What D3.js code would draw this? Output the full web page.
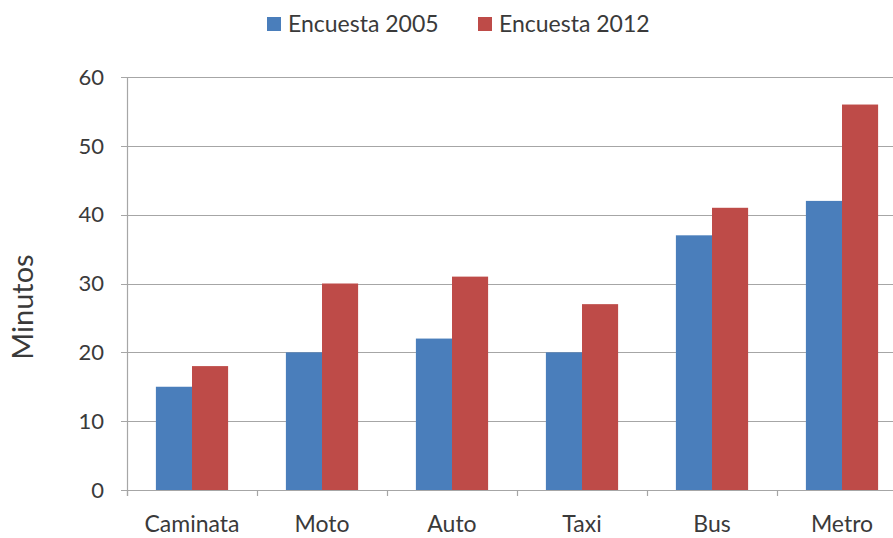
<!DOCTYPE html>
<html>
<head>
<meta charset="utf-8">
<script src="https://cdn.jsdelivr.net/npm/d3@7"></script>
<style>
  body { margin: 0; background: #fff; }
  svg text { font-family: Lato, "Open Sans", sans-serif; fill: #3a3a3a; }
</style>
</head>
<body>
<svg id="chart"></svg>
<script>
const categories = ["Caminata", "Moto", "Auto", "Taxi", "Bus", "Metro"],
  seriesNames = ["Encuesta 2005", "Encuesta 2012"],
  values2005 = [15, 20, 22, 20, 37, 42],
  values2012 = [18, 30, 31, 27, 41, 56],
  yTicks = [0, 10, 20, 30, 40, 50, 60],
  COLORS = ["#4a7ebb", "#be4b48"];

const WIDTH = 893,
  HEIGHT = 538,
  margin = { left: 127, top: 77, bottom: 48 };

const svg = d3.select("#chart")
  .attr("width", WIDTH)
  .attr("height", HEIGHT);

// plot area runs past the right edge, like the cropped original
const x = d3.scaleBand()
  .domain(categories)
  .range([margin.left, margin.left + 780])
  .paddingInner(0)
  .paddingOuter(0);

const inner = d3.scaleBand()
  .domain(seriesNames)
  .range([0, x.bandwidth()])
  .paddingInner(0)
  .paddingOuter(0.8);

const y = d3.scaleLinear()
  .domain([0, 60])
  .range([HEIGHT - margin.bottom, margin.top]);

// gridlines
svg.append("g")
  .selectAll("line")
  .data(yTicks)
  .enter()
  .append("line")
  .attr("x1", margin.left - 6)
  .attr("x2", WIDTH)
  .attr("y1", d => Math.round(y(d)) + 0.5)
  .attr("y2", d => Math.round(y(d)) + 0.5)
  .attr("stroke", "#a6a6a6")
  .attr("stroke-width", 1.2);

// y tick labels
svg.append("g")
  .selectAll("text")
  .data(yTicks)
  .enter()
  .append("text")
  .attr("x", 104)
  .attr("y", d => y(d))
  .attr("dy", "0.35em")
  .attr("text-anchor", "end")
  .attr("font-size", 22)
  .text(d => d);

// bars
const data = categories.map((c, i) => ({ cat: c, vals: [values2005[i], values2012[i]] }));

const groups = svg.append("g")
  .selectAll("g")
  .data(data)
  .enter()
  .append("g")
  .attr("transform", d => `translate(${x(d.cat)},0)`);

groups.selectAll("rect")
  .data(d => d.vals.map((v, k) => ({ name: seriesNames[k], v: v, k: k })))
  .enter()
  .append("rect")
  .attr("x", d => inner(d.name))
  .attr("width", inner.bandwidth())
  .attr("y", d => y(d.v))
  .attr("height", d => y(0) - y(d.v))
  .attr("fill", d => COLORS[d.k]);

// axes lines
svg.append("line")
  .attr("x1", margin.left + 0.5).attr("x2", margin.left + 0.5)
  .attr("y1", y(60)).attr("y2", y(0) + 6)
  .attr("stroke", "#a6a6a6").attr("stroke-width", 1.2);

const xTickPos = categories.map(c => x(c)).concat([x("Metro") + x.bandwidth()]);
svg.append("g")
  .selectAll("line")
  .data(xTickPos)
  .enter()
  .append("line")
  .attr("x1", d => Math.round(d) + 0.5)
  .attr("x2", d => Math.round(d) + 0.5)
  .attr("y1", y(0))
  .attr("y2", y(0) + 6)
  .attr("stroke", "#a6a6a6")
  .attr("stroke-width", 1.2);

// x labels
svg.append("g")
  .selectAll("text")
  .data(categories)
  .enter()
  .append("text")
  .attr("x", d => x(d) + x.bandwidth() / 2)
  .attr("y", 532)
  .attr("text-anchor", "middle")
  .attr("font-size", 23)
  .text(d => d);

// y axis title
svg.append("text")
  .attr("transform", "translate(23,307) rotate(-90)")
  .attr("text-anchor", "middle")
  .attr("dy", "0.35em")
  .attr("font-size", 29)
  .text("Minutos");

// legend
const legendX = [267, 478];
const legend = svg.append("g")
  .selectAll("g")
  .data(seriesNames)
  .enter()
  .append("g")
  .attr("transform", (d, i) => `translate(${legendX[i]},17)`);

legend.append("rect")
  .attr("width", 14)
  .attr("height", 14)
  .attr("fill", (d, i) => COLORS[i]);

legend.append("text")
  .attr("x", 21)
  .attr("y", 7)
  .attr("dy", "0.35em")
  .attr("font-size", 23)
  .text(d => d);
</script>
</body>
</html>
